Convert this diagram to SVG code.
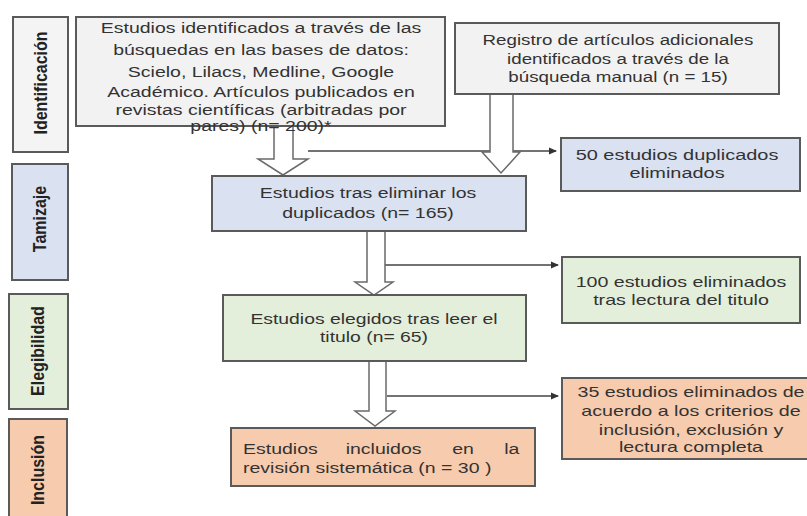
<svg xmlns="http://www.w3.org/2000/svg" width="807" height="516" viewBox="0 0 807 516">
<defs>
<style>
.box{stroke:#5a5a5a;stroke-width:2}
.grey{fill:#f2f2f2}
.blue{fill:#dae1f1}
.green{fill:#e3efda}
.orange{fill:#f7cbad}
.t{font-family:"Liberation Sans",Arial,sans-serif;font-size:15px;fill:#333;text-anchor:middle}
.tl{font-family:"Liberation Sans",Arial,sans-serif;font-size:15px;fill:#333}
.lab{font-family:"Liberation Sans",Arial,sans-serif;font-size:18px;font-weight:bold;fill:#222;text-anchor:middle;dominant-baseline:central}
.blk{fill:#fff;stroke:#6a6a6a;stroke-width:1.5;stroke-linejoin:miter}
.ln{stroke:#444;stroke-width:1.5;fill:none}
</style>
<marker id="ah" markerWidth="8" markerHeight="8" refX="7" refY="4" orient="auto" markerUnits="userSpaceOnUse">
<path d="M0,0.5 L8,4 L0,7.5 Z" fill="#333"/>
</marker>
</defs>
<rect width="807" height="516" fill="#fff"/>

<g id="lab-identificacion">
<rect class="box" x="13" y="17" width="55" height="135" fill="#f4f4f4"/>
<text class="lab" transform="translate(41,83) rotate(-90) scale(0.89,1)">Identificación</text>
</g>
<g id="lab-tamizaje">
<rect class="box blue" x="12" y="164" width="56" height="116"/>
<text class="lab" transform="translate(40,219) rotate(-90) scale(0.89,1)">Tamizaje</text>
</g>
<g id="lab-elegibilidad">
<rect class="box green" x="9" y="294" width="59" height="115"/>
<text class="lab" transform="translate(38,351) rotate(-90) scale(0.89,1)">Elegibilidad</text>
</g>
<g id="lab-inclusion">
<rect class="box orange" x="9" y="419" width="58" height="110"/>
<text class="lab" transform="translate(38,470) rotate(-90) scale(0.89,1)">Inclusión</text>
</g>

<g id="connectors">
<line class="ln" x1="308" y1="151" x2="556" y2="151" marker-end="url(#ah)"/>
<line class="ln" x1="385" y1="265" x2="558" y2="265" marker-end="url(#ah)"/>
<line class="ln" x1="387" y1="396" x2="558" y2="396" marker-end="url(#ah)"/>
<path class="blk" d="M274,126 L293,126 L293,159 L308,159 L283,175 L258,159 L274,159 Z"/>
<path class="blk" d="M490,94 L513,94 L513,152 L520,152 L501,173 L482,152 L490,152 Z"/>
<path class="blk" d="M367,231 L385,231 L385,282 L393,282 L374,295 L355,282 L367,282 Z"/>
<path class="blk" d="M369,361 L386,361 L386,411 L395,411 L375,426 L355,411 L369,411 Z"/>
</g>

<g id="n-busqueda">
<rect class="box grey" x="76" y="17" width="369" height="109"/>
<text class="t" transform="translate(261,33) scale(1.3,1)"><tspan x="0" y="0">Estudios  identificados a través de las</tspan><tspan x="0" y="22">búsquedas en las bases de datos:</tspan><tspan x="0" y="44">Scielo, Lilacs, Medline,  Google</tspan><tspan x="0" y="64">Académico. Artículos publicados en</tspan><tspan x="0" y="82">revistas científicas (arbitradas por</tspan><tspan x="0" y="98">pares) (n= 200)*</tspan></text>
</g>
<g id="n-registro">
<rect class="box grey" x="455" y="23" width="324" height="71"/>
<text class="t" transform="translate(618,45) scale(1.25,1)"><tspan x="0" y="0">Registro de artículos  adicionales</tspan><tspan x="0" y="19">identificados a través de la</tspan><tspan x="0" y="37">búsqueda manual (n = 15)</tspan></text>
</g>
<g id="n-duplicados">
<rect class="box blue" x="561" y="138" width="239" height="53"/>
<text class="t" transform="translate(677,160) scale(1.33,1)"><tspan x="0" y="0">50 estudios duplicados</tspan><tspan x="0" y="18">eliminados</tspan></text>
</g>
<g id="n-tamizaje">
<rect class="box blue" x="212" y="176" width="314" height="55"/>
<text class="t" transform="translate(368,198) scale(1.3,1)"><tspan x="0" y="0">Estudios tras eliminar los</tspan><tspan x="0" y="20">duplicados (n= 165)</tspan></text>
</g>
<g id="n-100">
<rect class="box green" x="562" y="257" width="238" height="66"/>
<text class="t" transform="translate(681,287) scale(1.31,1)"><tspan x="0" y="0">100 estudios eliminados</tspan><tspan x="0" y="18">tras lectura del titulo</tspan></text>
</g>
<g id="n-elegidos">
<rect class="box green" x="223" y="295" width="303" height="66"/>
<text class="t" transform="translate(374,324) scale(1.29,1)"><tspan x="0" y="0">Estudios elegidos tras leer el</tspan><tspan x="0" y="18">titulo (n= 65)</tspan></text>
</g>
<g id="n-35">
<rect class="box orange" x="562" y="378" width="250" height="81"/>
<text class="t" transform="translate(691,397) scale(1.31,1)"><tspan x="0" y="0">35 estudios eliminados de</tspan><tspan x="0" y="19">acuerdo a los criterios de</tspan><tspan x="0" y="38">inclusión, exclusión y</tspan><tspan x="0" y="55">lectura completa</tspan></text>
</g>
<g id="n-incluidos">
<rect class="box orange" x="231" y="428" width="304" height="58"/>
<text class="tl" transform="translate(243,454) scale(1.3,1)"><tspan x="0" y="0">Estudios</tspan><tspan x="79" y="0">incluidos</tspan><tspan x="161" y="0">en</tspan><tspan x="201" y="0">la</tspan><tspan x="0" y="19">revisión sistemática (n = 30 )</tspan></text>
</g>
</svg>
